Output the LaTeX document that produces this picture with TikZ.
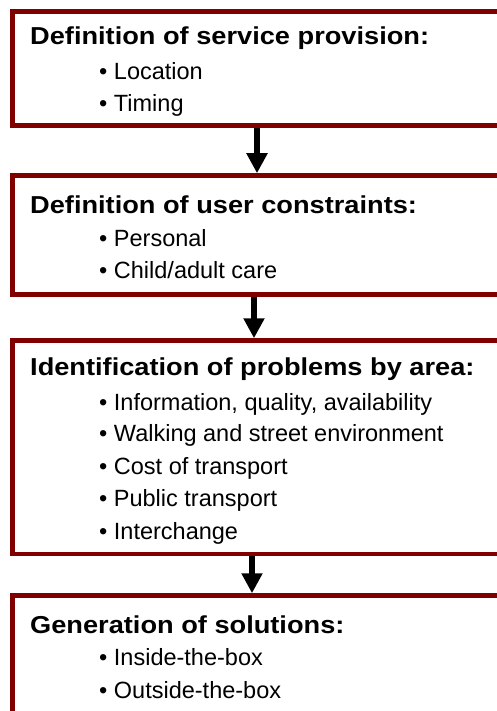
\documentclass[tikz,border=0pt]{standalone}
\usepackage{fontspec}
\setmainfont{Liberation Sans}
\newfontfamily\headfont[FakeStretch=1.11]{Liberation Sans}
\usetikzlibrary{arrows.meta}

\definecolor{boxred}{RGB}{128,0,0}

\begin{document}
\begin{tikzpicture}[x=1pt,y=-1pt]
    \tikzstyle{box}=[rectangle,draw=boxred,line width=4.5pt,minimum width=520pt,anchor=north west,inner sep=0pt,outer sep=0pt]
    \tikzstyle{head}=[anchor=base west,inner sep=0pt,font=\headfont\bfseries\fontsize{24.5}{28}\selectfont]   % box title
    \tikzstyle{item}=[anchor=base west,inner sep=0pt,font=\fontsize{23.5}{28}\selectfont]                   % bullet line
    \tikzstyle{flow}=[line width=6pt,shorten <=2.25pt,shorten >=2.25pt,-{Triangle[width=20pt,length=20pt]}]

    \useasboundingbox (0,0) rectangle (497,711);
    \clip (0,0) rectangle (497,711);

    % the four stages, cut off on the right
    \node[box,minimum height=114pt]   (prov)  at (12.5,11.5)  {};
    \node[box,minimum height=119pt]   (user)  at (12.5,175.5) {};
    \node[box,minimum height=213.5pt] (probl) at (12.5,340.5) {};
    \node[box,minimum height=150pt]   (sol)   at (12.5,595.5) {};

    \node[head] (prov-h)  at (30,45)    {Definition of service provision:};
    \node[item] (prov-1)  at (99,79.3)  {• Location};
    \node[item] (prov-2)  at (99,111.5) {• Timing};

    \node[head] (user-h)  at (30,213.3) {Definition of user constraints:};
    \node[item] (user-1)  at (99,246.7) {• Personal};
    \node[item] (user-2)  at (99,278.3) {• Child/adult care};

    \node[head] (probl-h) at (30,375)   {Identification of problems by area:};
    \node[item] (probl-1) at (99,410)   {• Information, quality, availability};
    \node[item] (probl-2) at (99,441.7) {• Walking and street environment};
    \node[item] (probl-3) at (99,474)   {• Cost of transport};
    \node[item] (probl-4) at (99,506.7) {• Public transport};
    \node[item] (probl-5) at (99,539)   {• Interchange};

    \node[head] (sol-h)   at (30,633.3) {Generation of solutions:};
    \node[item] (sol-1)   at (99,665)   {• Inside-the-box};
    \node[item] (sol-2)   at (99,698.3) {• Outside-the-box};

    \draw[flow] ([xshift=-15.5pt]prov.south)  -- ([xshift=-15.5pt]user.north);
    \draw[flow] ([xshift=-18.5pt]user.south)  -- ([xshift=-18.5pt]probl.north);
    \draw[flow] ([xshift=-20.5pt]probl.south) -- ([xshift=-20.5pt]sol.north);
\end{tikzpicture}
\end{document}
